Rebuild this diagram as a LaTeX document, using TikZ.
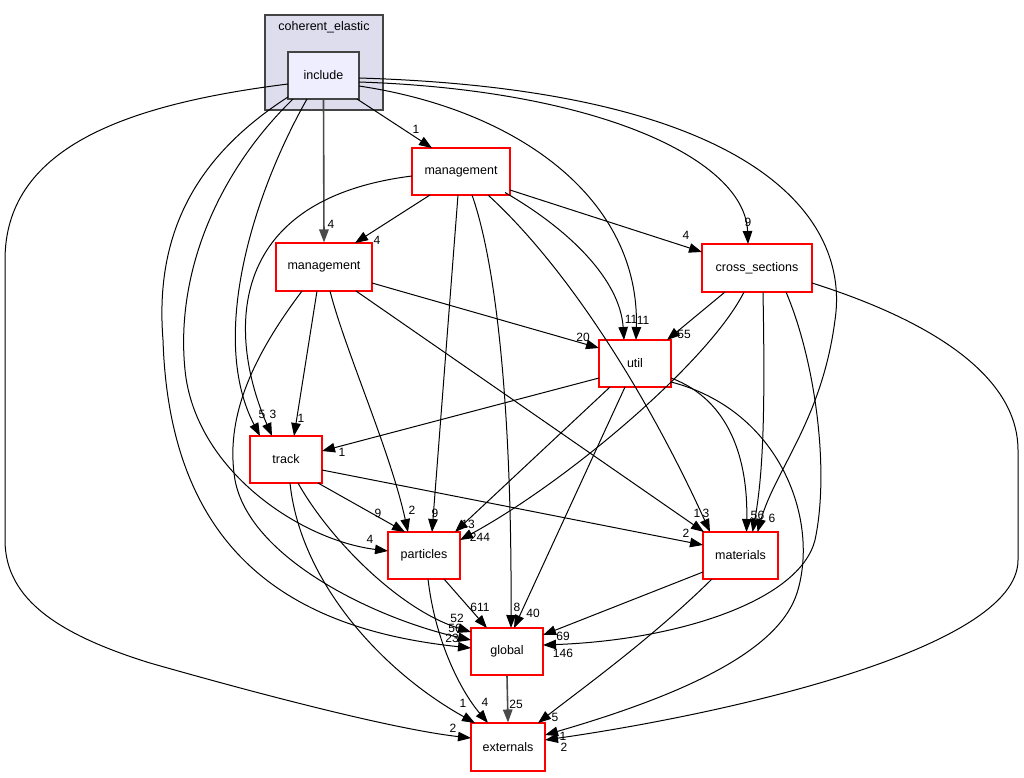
\documentclass[tikz,border=0pt]{standalone}
\usepackage{fontspec}
\setmainfont{Liberation Sans}
\usetikzlibrary{arrows.meta}
\definecolor{clfill}{HTML}{DDDDEE}
\definecolor{incfill}{HTML}{EEEEFF}
\definecolor{bord}{HTML}{444444}
\definecolor{gedge}{HTML}{4A4A4A}
\tikzset{
  dirbox/.style={draw=red, line width=1.1pt, fill=white, inner sep=0pt, font=\fontsize{12.5}{14}\selectfont},
  incbox/.style={draw=bord, line width=1.1pt, fill=incfill, inner sep=0pt, font=\fontsize{12.5}{14}\selectfont},
  edge/.style={draw=black, line width=1pt, -{Triangle[length=13pt,width=9.5pt]}},
  gray edge/.style={draw=gedge, line width=1.6pt, -{Triangle[length=13pt,width=9.5pt]}},
  lab/.style={inner sep=0pt, font=\fontsize{12}{12}\selectfont}
}
\begin{document}
\begin{tikzpicture}[x=1pt,y=-1pt]
\useasboundingbox (0,0) rectangle (1024,777);
% cluster
\node[draw=bord, line width=1.1pt, fill=clfill, minimum width=118pt, minimum height=95pt, inner sep=0pt] (cl) at (324,62.5) {};
\node[inner sep=0pt, font=\fontsize{12.5}{14}\selectfont] (cltitle) at (324,27) {coherent\_elastic};
% nodes
\node[incbox, minimum width=71pt, minimum height=47pt] (inc) at (323.5,75.5) {include};
\node[dirbox, minimum width=98pt, minimum height=47pt] (mg1) at (461,171.5) {management};
\node[dirbox, minimum width=96pt, minimum height=48pt] (mg2) at (324,267) {management};
\node[dirbox, minimum width=110pt, minimum height=48pt] (cs) at (757,268) {cross\_sections};
\node[dirbox, minimum width=72pt, minimum height=47pt] (util) at (635,363.5) {util};
\node[dirbox, minimum width=72pt, minimum height=47pt] (track) at (286,459.5) {track};
\node[dirbox, minimum width=72pt, minimum height=47pt] (part) at (424,555.5) {particles};
\node[dirbox, minimum width=75pt, minimum height=47pt] (mat) at (740.5,555.5) {materials};
\node[dirbox, minimum width=72pt, minimum height=47pt] (glob) at (507,651.5) {global};
\node[dirbox, minimum width=74pt, minimum height=48pt] (ext) at (508,747) {externals};

% edges from include
\draw[edge] ([shift={(33.5,23.5)}]inc.center) -- ([shift={(-29,-23.5)}]mg1.center);
\draw[gray edge] (inc.south) -- (mg2.north);
\draw[edge] ([shift={(-35.5,8.5)}]inc.center) .. controls (120,105) and (5,150) .. (5,260) -- (5,540) .. controls (5,600) and (60,635) .. (150,663) .. controls (280,700) and (400,730) .. ([shift={(-37,-9)}]ext.center);
\draw[edge] ([shift={(-35.5,21.5)}]inc.center) .. controls (190,160) and (155,240) .. (163,340) .. controls (170,560) and (300,630) .. ([shift={(-36,-3.5)}]glob.center);
\draw[edge] ([shift={(-30.5,23.5)}]inc.center) .. controls (220,170) and (175,270) .. (185,370) .. controls (195,470) and (300,540) .. ([shift={(-36,-4.5)}]part.center);
\draw[edge] ([shift={(-16.5,23.5)}]inc.center) .. controls (250,200) and (210,340) .. ([shift={(-26,-23.5)}]track.center);
\draw[edge] ([shift={(35.5,10.5)}]inc.center) .. controls (520,110) and (640,200) .. ([shift={(1,-23.5)}]util.center);
\draw[edge] ([shift={(35.5,6.5)}]inc.center) .. controls (600,90) and (745,160) .. ([shift={(-9,-24)}]cs.center);
\draw[edge] ([shift={(35.5,2.5)}]inc.center) .. controls (760,90) and (850,220) .. (835,320) .. controls (822,420) and (775,470) .. ([shift={(17,-23.5)}]mat.center);

% edges from management (top)
\draw[edge] ([shift={(-31,23.5)}]mg1.center) -- ([shift={(31,-24)}]mg2.center);
\draw[edge] ([shift={(49,18.5)}]mg1.center) -- ([shift={(-55,-16)}]cs.center);
\draw[edge] ([shift={(-3,23.5)}]mg1.center) -- ([shift={(8,-23.5)}]part.center);
\draw[edge] ([shift={(11,23.5)}]mg1.center) .. controls (495,260) and (512,400) .. ([shift={(4,-23.5)}]glob.center);
\draw[edge] ([shift={(27,23.5)}]mg1.center) .. controls (570,270) and (650,400) .. ([shift={(-30.5,-23.5)}]mat.center);
\draw[edge] ([shift={(44,21)}]mg1.center) .. controls (570,230) and (620,280) .. ([shift={(-11,-23.5)}]util.center);
\draw[edge] ([shift={(-49,4.5)}]mg1.center) .. controls (220,200) and (230,340) .. ([shift={(-14,-23.5)}]track.center);

% edges from management (second)
\draw[edge] ([shift={(-7,24)}]mg2.center) -- ([shift={(8,-23.5)}]track.center);
\draw[edge] ([shift={(6,24)}]mg2.center) .. controls (345,350) and (390,450) .. ([shift={(-16,-23.5)}]part.center);
\draw[edge] ([shift={(-22,24)}]mg2.center) .. controls (250,360) and (225,420) .. (235,480) .. controls (250,560) and (380,620) .. ([shift={(-36,-11.5)}]glob.center);
\draw[edge] ([shift={(48,16)}]mg2.center) -- ([shift={(-36,-15.5)}]util.center);
\draw[edge] ([shift={(32,24)}]mg2.center) -- ([shift={(-36.5,-23.5)}]mat.center);

% edges from cross_sections
\draw[edge] ([shift={(-32,24)}]cs.center) -- ([shift={(32,-23.5)}]util.center);
\draw[edge] ([shift={(-13,24)}]cs.center) .. controls (710,360) and (570,480) .. ([shift={(36,-15.5)}]part.center);
\draw[edge] ([shift={(6,24)}]cs.center) .. controls (765,400) and (764,470) .. ([shift={(12,-23.5)}]mat.center);
\draw[edge] ([shift={(29,24)}]cs.center) .. controls (815,360) and (830,470) .. (815,540) .. controls (800,600) and (680,640) .. ([shift={(36,-6.5)}]glob.center);
\draw[edge] ([shift={(55,15)}]cs.center) .. controls (960,330) and (1018,390) .. (1018,450) -- (1018,560) .. controls (1018,650) and (720,715) .. ([shift={(37,-7)}]ext.center);

% edges from util
\draw[edge] ([shift={(-36,14.5)}]util.center) -- ([shift={(36,-8.5)}]track.center);
\draw[edge] ([shift={(-25,23.5)}]util.center) -- ([shift={(31,-23.5)}]part.center);
\draw[edge] ([shift={(-10,23.5)}]util.center) -- ([shift={(7,-23.5)}]glob.center);
\draw[edge] ([shift={(36,14.5)}]util.center) .. controls (730,400) and (748,460) .. ([shift={(6,-23.5)}]mat.center);
\draw[edge] ([shift={(36,18.5)}]util.center) .. controls (780,410) and (820,520) .. (797,593) .. controls (780,646) and (700,690) .. ([shift={(37,-12)}]ext.center);

% edges from track
\draw[edge] ([shift={(32,23.5)}]track.center) -- ([shift={(-19,-23.5)}]part.center);
\draw[edge] ([shift={(36,10.5)}]track.center) -- ([shift={(-37.5,-10.5)}]mat.center);
\draw[edge] ([shift={(12,23.5)}]track.center) .. controls (330,540) and (400,610) .. ([shift={(-36,-19.5)}]glob.center);
\draw[edge] ([shift={(4,23.5)}]track.center) .. controls (300,580) and (380,670) .. ([shift={(-33,-24)}]ext.center);

% edges from particles, materials, global
\draw[edge] ([shift={(20,23.5)}]part.center) -- ([shift={(-20,-23.5)}]glob.center);
\draw[edge] ([shift={(4,23.5)}]part.center) .. controls (435,640) and (460,690) .. ([shift={(-20,-24)}]ext.center);
\draw[edge] ([shift={(-37.5,16.5)}]mat.center) -- ([shift={(36,-16.5)}]glob.center);
\draw[edge] ([shift={(-28.5,23.5)}]mat.center) .. controls (650,640) and (580,690) .. ([shift={(30,-24)}]ext.center);
\draw[gray edge] (glob.south) -- (ext.north);

% labels
\node[lab] (l1) at (416,129) {1};
\node[lab] (l2) at (331,224) {4};
\node[lab] (l3) at (377,240) {4};
\node[lab] (l4) at (686,235) {4};
\node[lab] (l5) at (748,222) {9};
\node[lab] (l6) at (583,337) {20};
\node[lab] (l7) at (631,319) {11};
\node[lab] (l8) at (643,320) {11};
\node[lab] (l9) at (684,334) {55};
\node[lab] (l10) at (262,414) {5};
\node[lab] (l11) at (273,414) {3};
\node[lab] (l12) at (301,418) {1};
\node[lab] (l13) at (342,452) {1};
\node[lab] (l14) at (378,513) {9};
\node[lab] (l15) at (412,510) {2};
\node[lab] (l16) at (435,513) {9};
\node[lab] (l17) at (468,524) {13};
\node[lab] (l18) at (480,537) {244};
\node[lab] (l19) at (370,539) {4};
\node[lab] (l20) at (480,607) {611};
\node[lab] (l21) at (517,607) {8};
\node[lab] (l22) at (533,613) {40};
\node[lab] (l23) at (457,618) {52};
\node[lab] (l24) at (455,628) {56};
\node[lab] (l25) at (452,638) {23};
\node[lab] (l26) at (563,636) {69};
\node[lab] (l27) at (563,653) {146};
\node[lab] (l28) at (686,533) {2};
\node[lab] (l29) at (697,513) {1};
\node[lab] (l30) at (706,513) {3};
\node[lab] (l31) at (754,515) {5};
\node[lab] (l32) at (761,515) {6};
\node[lab] (l33) at (772,518) {6};
\node[lab] (l34) at (463,703) {1};
\node[lab] (l35) at (485,702) {4};
\node[lab] (l36) at (516,704) {25};
\node[lab] (l37) at (555,717) {5};
\node[lab] (l38) at (453,728) {2};
\node[lab] (l39) at (563,736) {1};
\node[lab] (l40) at (564,747) {2};
\end{tikzpicture}
\end{document}
